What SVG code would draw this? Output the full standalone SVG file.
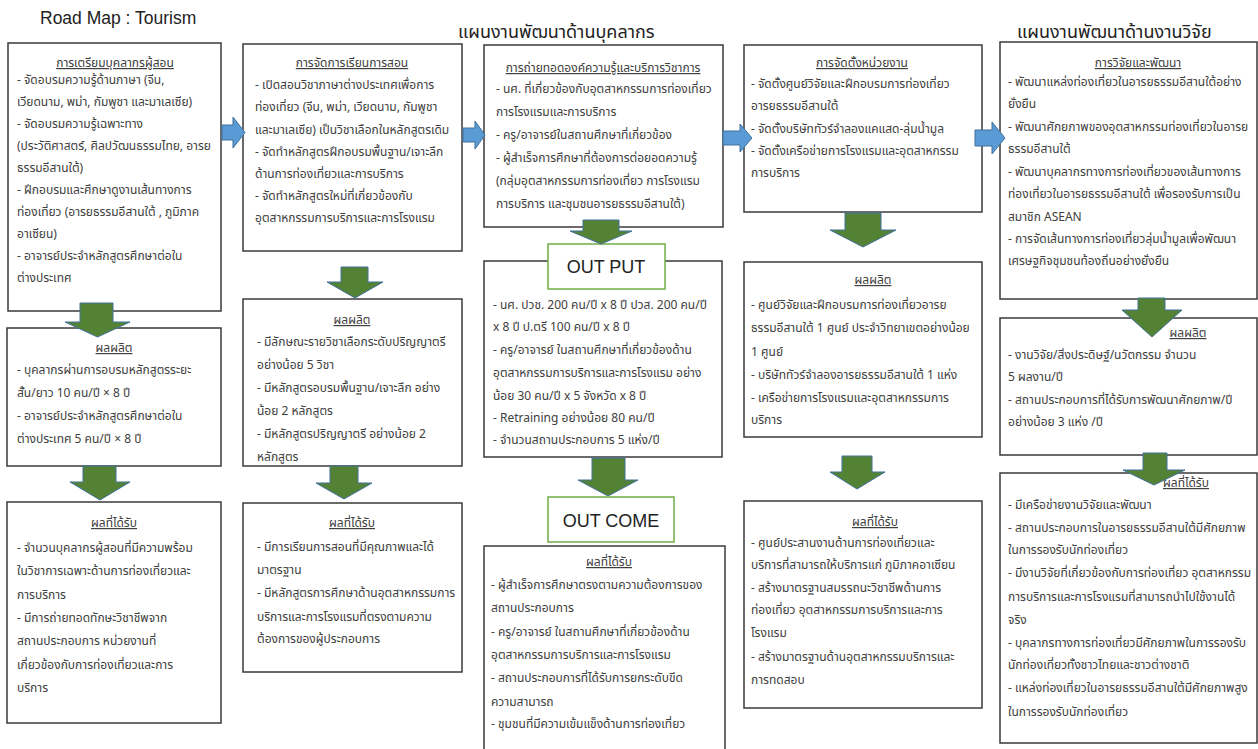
<svg xmlns="http://www.w3.org/2000/svg" width="1258" height="749" viewBox="0 0 1258 749">
<style>
.box{fill:#fff;stroke:#3a3a3a;stroke-width:1.5}
.lbl{fill:#fff;stroke:#70AD47;stroke-width:1.5}
text{font-family:"Noto Sans Thai","Noto Sans","DejaVu Sans","Liberation Sans",sans-serif;fill:#404040}
.t{font-size:12px}
.h{font-size:12px;text-anchor:middle;text-decoration:underline}
.title{font-size:18px;fill:#222}
.big{font-family:"Liberation Sans",Arial,sans-serif;font-size:18px;fill:#222;text-anchor:middle}
.ba{fill:#5B9BD5;stroke:#41719C;stroke-width:1}
.ga{fill:#548235;stroke:#41719C;stroke-width:1}
</style>
<rect width="1258" height="749" fill="#fff"/>
<text x="40" y="24" style="font-family:'Liberation Sans',Arial,sans-serif;font-size:17.5px;fill:#222">Road Map : Tourism</text>
<text class="title" x="458" y="38">แผนงานพัฒนาด้านบุคลากร</text>
<text class="title" x="1017" y="38">แผนงานพัฒนาด้านงานวิจัย</text>

<g id="c1-prep">
<rect class="box" x="8" y="43" width="213" height="268"/>
<text class="h" x="115" y="67">การเตรียมบุคลากรผู้สอน</text>
<text class="t" x="17" y="84">-  จัดอบรมความรู้ด้านภาษา (จีน,</text>
<text class="t" x="17" y="106">เวียดนาม, พม่า, กัมพูชา และมาเลเซีย)</text>
<text class="t" x="17" y="128">-  จัดอบรมความรู้เฉพาะทาง</text>
<text class="t" x="17" y="150">(ประวัติศาสตร์, ศิลปวัฒนธรรมไทย, อารย</text>
<text class="t" x="17" y="172">ธรรมอีสานใต้)</text>
<text class="t" x="17" y="194">-  ฝึกอบรมและศึกษาดูงานเส้นทางการ</text>
<text class="t" x="17" y="216">ท่องเที่ยว (อารยธรรมอีสานใต้ , ภูมิภาค</text>
<text class="t" x="17" y="238">อาเซียน)</text>
<text class="t" x="17" y="260">- อาจารย์ประจำหลักสูตรศึกษาต่อใน</text>
<text class="t" x="17" y="282">ต่างประเทศ</text>
</g>
<g id="c1-output">
<rect class="box" x="7" y="328" width="214" height="138"/>
<text class="h" x="114" y="352">ผลผลิต</text>
<text class="t" x="17" y="374">-  บุคลากรผ่านการอบรมหลักสูตรระยะ</text>
<text class="t" x="17" y="397">สั้น/ยาว 10 คน/ปี × 8 ปี</text>
<text class="t" x="17" y="420">-  อาจารย์ประจำหลักสูตรศึกษาต่อใน</text>
<text class="t" x="17" y="443">ต่างประเทศ 5 คน/ปี × 8 ปี</text>
</g>
<g id="c1-outcome">
<rect class="box" x="7" y="502" width="214" height="221"/>
<text class="h" x="114" y="527">ผลที่ได้รับ</text>
<text class="t" x="17" y="552">-  จำนวนบุคลากรผู้สอนที่มีความพร้อม</text>
<text class="t" x="17" y="575">ในวิชาการเฉพาะด้านการท่องเที่ยวและ</text>
<text class="t" x="17" y="599">การบริการ</text>
<text class="t" x="17" y="622">-  มีการถ่ายทอดทักษะวิชาชีพจาก</text>
<text class="t" x="17" y="645">สถานประกอบการ หน่วยงานที่</text>
<text class="t" x="17" y="669">เกี่ยวข้องกับการท่องเที่ยวและการ</text>
<text class="t" x="17" y="692">บริการ</text>
</g>

<g id="c2-teach">
<rect class="box" x="243" y="44" width="219" height="207"/>
<text class="h" x="352" y="67">การจัดการเรียนการสอน</text>
<text class="t" x="255" y="89">-  เปิดสอนวิชาภาษาต่างประเทศเพื่อการ</text>
<text class="t" x="255" y="111">ท่องเที่ยว (จีน, พม่า, เวียดนาม, กัมพูชา</text>
<text class="t" x="255" y="134">และมาเลเซีย) เป็นวิชาเลือกในหลักสูตรเดิม</text>
<text class="t" x="255" y="156">-  จัดทำหลักสูตรฝึกอบรมพื้นฐาน/เจาะลึก</text>
<text class="t" x="255" y="178">ด้านการท่องเที่ยวและการบริการ</text>
<text class="t" x="255" y="200">-  จัดทำหลักสูตรใหม่ที่เกี่ยวข้องกับ</text>
<text class="t" x="255" y="222">อุตสาหกรรมการบริการและการโรงแรม</text>
</g>
<g id="c2-output">
<rect class="box" x="243" y="299" width="219" height="167"/>
<text class="h" x="352" y="324">ผลผลิต</text>
<text class="t" x="257" y="346">-  มีลักษณะรายวิชาเลือกระดับปริญญาตรี</text>
<text class="t" x="257" y="369">อย่างน้อย 5 วิชา</text>
<text class="t" x="257" y="392">-  มีหลักสูตรอบรมพื้นฐาน/เจาะลึก อย่าง</text>
<text class="t" x="257" y="415">น้อย 2 หลักสูตร</text>
<text class="t" x="257" y="438">-  มีหลักสูตรปริญญาตรี อย่างน้อย 2</text>
<text class="t" x="257" y="461">หลักสูตร</text>
</g>
<g id="c2-outcome">
<rect class="box" x="243" y="503" width="219" height="169"/>
<text class="h" x="352" y="527">ผลที่ได้รับ</text>
<text class="t" x="257" y="551">-  มีการเรียนการสอนที่มีคุณภาพและได้</text>
<text class="t" x="257" y="574">มาตรฐาน</text>
<text class="t" x="257" y="597">-  มีหลักสูตรการศึกษาด้านอุตสาหกรรมการ</text>
<text class="t" x="257" y="621">บริการและการโรงแรมที่ตรงตามความ</text>
<text class="t" x="257" y="643">ต้องการของผู้ประกอบการ</text>
</g>

<g id="c3-transfer">
<rect class="box" x="484" y="45" width="239" height="182"/>
<text class="h" x="603" y="72">การถ่ายทอดองค์ความรู้และบริการวิชาการ</text>
<text class="t" x="496" y="93">-  นศ. ที่เกี่ยวข้องกับอุตสาหกรรมการท่องเที่ยว</text>
<text class="t" x="496" y="116">การโรงแรมและการบริการ</text>
<text class="t" x="496" y="139">-  ครู/อาจารย์ในสถานศึกษาที่เกี่ยวข้อง</text>
<text class="t" x="496" y="162">-  ผู้สำเร็จการศึกษาที่ต้องการต่อยอดความรู้</text>
<text class="t" x="496" y="185">(กลุ่มอุตสาหกรรมการท่องเที่ยว  การโรงแรม</text>
<text class="t" x="496" y="208">การบริการ และชุมชนอารยธรรมอีสานใต้)</text>
</g>
<g id="c3-output">
<rect class="box" x="484" y="261" width="238" height="196"/>
<rect class="lbl" x="548" y="244" width="117" height="45"/>
<text class="big" x="606" y="273">OUT PUT</text>
<text class="t" x="493" y="309">-  นศ. ปวช. 200 คน/ปี x 8 ปี ปวส. 200 คน/ปี</text>
<text class="t" x="493" y="331">x 8 ปี ป.ตรี 100 คน/ปี x 8 ปี</text>
<text class="t" x="493" y="354">-  ครู/อาจารย์ ในสถานศึกษาที่เกี่ยวข้องด้าน</text>
<text class="t" x="493" y="377">อุตสาหกรรมการบริการและการโรงแรม อย่าง</text>
<text class="t" x="493" y="400">น้อย 30 คน/ปี x 5 จังหวัด x 8 ปี</text>
<text class="t" x="493" y="422">-  Retraining อย่างน้อย 80 คน/ปี</text>
<text class="t" x="493" y="444">-  จำนวนสถานประกอบการ 5 แห่ง/ปี</text>
</g>
<g id="c3-outcome">
<rect class="lbl" x="548" y="497" width="126" height="45"/>
<text class="big" x="611" y="527">OUT COME</text>
<rect class="box" x="484" y="546" width="241" height="206"/>
<text class="h" x="609" y="566">ผลที่ได้รับ</text>
<text class="t" x="491" y="589">-  ผู้สำเร็จการศึกษาตรงตามความต้องการของ</text>
<text class="t" x="491" y="612">สถานประกอบการ</text>
<text class="t" x="491" y="636">-  ครู/อาจารย์ ในสถานศึกษาที่เกี่ยวข้องด้าน</text>
<text class="t" x="491" y="659">อุตสาหกรรมการบริการและการโรงแรม</text>
<text class="t" x="491" y="682">-  สถานประกอบการที่ได้รับการยกระดับขีด</text>
<text class="t" x="491" y="706">ความสามารถ</text>
<text class="t" x="491" y="728">-  ชุมชนที่มีความเข้มแข็งด้านการท่องเที่ยว</text>
</g>

<g id="c4-setup">
<rect class="box" x="744" y="45" width="238" height="167"/>
<text class="h" x="862" y="67">การจัดตั้งหน่วยงาน</text>
<text class="t" x="751" y="88">-  จัดตั้งศูนย์วิจัยและฝึกอบรมการท่องเที่ยว</text>
<text class="t" x="751" y="110">อารยธรรมอีสานใต้</text>
<text class="t" x="751" y="133">-  จัดตั้งบริษัททัวร์จำลองแคแสด-ลุ่มน้ำมูล</text>
<text class="t" x="751" y="155">-  จัดตั้งเครือข่ายการโรงแรมและอุตสาหกรรม</text>
<text class="t" x="751" y="177">การบริการ</text>
</g>
<g id="c4-output">
<rect class="box" x="744" y="262" width="238" height="175"/>
<text class="h" x="873" y="284">ผลผลิต</text>
<text class="t" x="751" y="309">-  ศูนย์วิจัยและฝึกอบรมการท่องเที่ยวอารย</text>
<text class="t" x="751" y="332">ธรรมอีสานใต้ 1 ศูนย์ ประจำวิทยาเขตอย่างน้อย</text>
<text class="t" x="751" y="356">1 ศูนย์</text>
<text class="t" x="751" y="379">-  บริษัททัวร์จำลองอารยธรรมอีสานใต้ 1 แห่ง</text>
<text class="t" x="751" y="402">-  เครือข่ายการโรงแรมและอุตสาหกรรมการ</text>
<text class="t" x="751" y="424">บริการ</text>
</g>
<g id="c4-outcome">
<rect class="box" x="744" y="501" width="238" height="207"/>
<text class="h" x="875" y="526">ผลที่ได้รับ</text>
<text class="t" x="751" y="547">-  ศูนย์ประสานงานด้านการท่องเที่ยวและ</text>
<text class="t" x="751" y="569">บริการที่สามารถให้บริการแก่ ภูมิภาคอาเซียน</text>
<text class="t" x="751" y="592">-  สร้างมาตรฐานสมรรถนะวิชาชีพด้านการ</text>
<text class="t" x="751" y="614">ท่องเที่ยว อุตสาหกรรมการบริการและการ</text>
<text class="t" x="751" y="637">โรงแรม</text>
<text class="t" x="751" y="661">-  สร้างมาตรฐานด้านอุตสาหกรรมบริการและ</text>
<text class="t" x="751" y="684">การทดสอบ</text>
</g>

<g id="c5-research">
<rect class="box" x="1000" y="42" width="257" height="257"/>
<text class="h" x="1138" y="67">การวิจัยและพัฒนา</text>
<text class="t" x="1008" y="86">-  พัฒนาแหล่งท่องเที่ยวในอารยธรรมอีสานใต้อย่าง</text>
<text class="t" x="1008" y="108">ยั่งยืน</text>
<text class="t" x="1008" y="131">-  พัฒนาศักยภาพของอุตสาหกรรมท่องเที่ยวในอารย</text>
<text class="t" x="1008" y="153">ธรรมอีสานใต้</text>
<text class="t" x="1008" y="176">-  พัฒนาบุคลากรทางการท่องเที่ยวของเส้นทางการ</text>
<text class="t" x="1008" y="198">ท่องเที่ยวในอารยธรรมอีสานใต้ เพื่อรองรับการเป็น</text>
<text class="t" x="1008" y="221">สมาชิก ASEAN</text>
<text class="t" x="1008" y="243">-  การจัดเส้นทางการท่องเที่ยวลุ่มน้ำมูลเพื่อพัฒนา</text>
<text class="t" x="1008" y="265">เศรษฐกิจชุมชนท้องถิ่นอย่างยั่งยืน</text>
</g>
<g id="c5-output">
<rect class="box" x="1000" y="318" width="257" height="137"/>
<text class="h" x="1188" y="337">ผลผลิต</text>
<text class="t" x="1008" y="359">-  งานวิจัย/สิ่งประดิษฐ์/นวัตกรรม จำนวน</text>
<text class="t" x="1008" y="381">5 ผลงาน/ปี</text>
<text class="t" x="1008" y="404">-  สถานประกอบการที่ได้รับการพัฒนาศักยภาพ/ปี</text>
<text class="t" x="1008" y="426">อย่างน้อย 3 แห่ง /ปี</text>
</g>
<g id="c5-outcome">
<rect class="box" x="1000" y="473" width="257" height="270"/>
<text class="h" x="1186" y="487">ผลที่ได้รับ</text>
<text class="t" x="1008" y="509">-  มีเครือข่ายงานวิจัยและพัฒนา</text>
<text class="t" x="1008" y="532">-  สถานประกอบการในอารยธรรมอีสานใต้มีศักยภาพ</text>
<text class="t" x="1008" y="554">ในการรองรับนักท่องเที่ยว</text>
<text class="t" x="1008" y="577">-  มีงานวิจัยที่เกี่ยวข้องกับการท่องเที่ยว อุตสาหกรรม</text>
<text class="t" x="1008" y="601">การบริการและการโรงแรมที่สามารถนำไปใช้งานได้</text>
<text class="t" x="1008" y="624">จริง</text>
<text class="t" x="1008" y="647">-  บุคลากรทางการท่องเที่ยวมีศักยภาพในการรองรับ</text>
<text class="t" x="1008" y="669">นักท่องเที่ยวทั้งชาวไทยและชาวต่างชาติ</text>
<text class="t" x="1008" y="692">-  แหล่งท่องเที่ยวในอารยธรรมอีสานใต้มีศักยภาพสูง</text>
<text class="t" x="1008" y="716">ในการรองรับนักท่องเที่ยว</text>
</g>

<g id="connectors">
<polygon class="ba" points="222,125 233,125 233,117 245,132.5 233,148 233,140 222,140"/>
<polygon class="ba" points="463,128 475,128 475,121 485,135 475,149 475,142 463,142"/>
<polygon class="ba" points="723,131 740,131 740,124 752,138 740,152 740,145 723,145"/>
<polygon class="ba" points="975,130 992,130 992,122 1005,138 992,154 992,146 975,146"/>
<polygon class="ga" points="80,303 113,303 113,322 130,322 97.5,337 65,322 80,322"/>
<polygon class="ga" points="83,466 116,466 116,482 130,482 100,500 70,482 83,482"/>
<polygon class="ga" points="341,267 368,267 368,282 383,282 355,298 327,282 341,282"/>
<polygon class="ga" points="330,466 358,466 358,483 372,483 344,499 316,483 330,483"/>
<polygon class="ga" points="583,220 619,220 619,231 632,231 601,244 570,231 583,231"/>
<polygon class="ga" points="592,458 625,458 625,480 638,480 608,496 578,480 592,480"/>
<polygon class="ga" points="845,213 881,213 881,230 896,230 863,247 830,230 845,230"/>
<polygon class="ga" points="842,456 872,456 872,472 885,472 857,489 830,472 842,472"/>
<polygon class="ga" points="1138,298 1165,298 1165,310 1182,310 1152,337 1122,310 1138,310"/>
<polygon class="ga" points="1143,453 1167,453 1167,470 1185,470 1154,485 1123,470 1143,470"/>
</g>
</svg>
